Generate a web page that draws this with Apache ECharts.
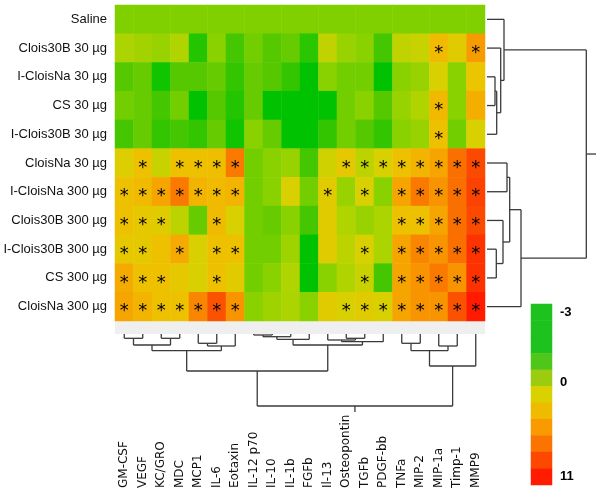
<!DOCTYPE html>
<html><head><meta charset="utf-8">
<script src="https://cdn.jsdelivr.net/npm/echarts@6/dist/echarts.min.js"></script>
<style>html,body{margin:0;padding:0;background:#fff}#c{width:600px;height:495px}</style>
</head><body><div id="c"></div>
<script>
// ---- categories ----
const rowLabels = ['Saline','Clois30B 30 µg','I-CloisNa 30 µg','CS 30 µg','I-Clois30B 30 µg','CloisNa 30 µg','I-CloisNa 300 µg','Clois30B 300 µg','I-Clois30B 300 µg','CS 300 µg','CloisNa 300 µg'];
const colLabels = ['GM-CSF','VEGF','KC/GRO','MDC','MCP1','IL-6','Eotaxin','IL-12 p70','IL-10','IL-1b','FGFb','Il-13','Osteopontin','TGFb','PDGF-bb','TNFa','MIP-2','MIP-1a','Timp-1','MMP9'];

// ---- values (one array per row, columns in colLabels order) ----
const saline        = [0,0,0,0,0,0,0,0,0,0,0,0,0,0,0,0,0,0,0,0];
const clois30B_30   = [0.9,0.7,0.5,1.0,-2.2,0.2,-1.4,-0.3,-1,-0.6,-2,1.4,0.5,0.2,-1.4,1.4,1.6,3.6,2.4,5.5];
const iCloisNa_30   = [-1,-0.6,-2.6,-1,-1,-0.6,-1.8,-0.6,-1,-1.8,-3,0.2,-0.3,-0.3,-3,0.2,0.5,2,0.2,2.9];
const cs_30         = [-0.3,-0.6,-1.4,-0.3,-3,-1,-2.2,-0.6,-3,-3,-3,-3,-0.3,0.2,-1,0.5,1,3.7,0.2,4.4];
const iClois30B_30  = [-1.4,-0.6,-1.8,-1.4,-1.8,-0.6,-2.6,0.2,-0.6,-3,-3,-1.8,-0.3,-1,-1.8,0.2,0.5,3.2,-0.3,2];
const cloisNa_30    = [2.2,3.2,1.6,3.2,3.2,3.4,7.5,-0.3,0.2,0.5,-1.4,1.8,2.7,1.3,2,3.2,4,5,8,9.5];
const iCloisNa_300  = [3.2,3.6,5,7.5,4,3.6,4,-0.3,0.2,2,-0.3,2.4,0.5,2,0.2,5,7.5,6,8,9.8];
const clois30B_300  = [3.2,2.7,2.4,1.3,-0.6,3.6,2,-0.3,-0.6,0.2,-1.4,2.4,1,0.5,0.9,3.2,3.2,5,8,9.5];
const iClois30B_300 = [2.7,2.7,3.2,4.6,2,3.2,3.2,-0.3,-0.3,0.65,-3,2.4,1.3,2,0.9,5,6.9,6,8,10.3];
const cs_300        = [4.6,3.2,3.2,2.7,2,3.2,2.5,-0.3,0.2,1,-3,0.2,1,1.6,-1.4,5,6,7.5,6,10.3];
const cloisNa_300   = [5,4,3.2,3.2,6.9,9.2,6,0.2,0.65,0.9,0.2,2.4,2,2.4,2,5,6,6,9.2,11];
const rowValues = [saline,clois30B_30,iCloisNa_30,cs_30,iClois30B_30,cloisNa_30,iCloisNa_300,clois30B_300,iClois30B_300,cs_300,cloisNa_300];

// ---- significance stars: column indices per row ----
const stars = [
  [], [17,19], [], [17], [17],
  [1,3,4,5,6,12,13,14,15,16,17,18,19],
  [0,1,2,3,4,5,6,11,13,15,16,17,18,19],
  [0,1,2,5,15,16,17,18,19],
  [0,1,3,5,6,13,15,16,17,18,19],
  [0,1,2,5,13,15,16,17,18,19],
  [0,1,2,3,4,5,6,12,13,14,15,16,17,18,19]
];

// ---- dendrograms: [height, left, right], leaves are indices ----
const rowTree = [99.3, [17, 0, [13.7, 1, [9.7, [8, 2, 3], 4]]], [34, [22.7, [20, 5, 6], [16, 7, [9.3, 8, 9]]], 10]];
const rowRootStub = 109;
const colTree = [72,
  [37, [16.7, [11, [4.3, 0, 1], [4.3, 2, 3]], [12, [9.3, 4, 5], 6]],
       [11, [5.3, [2.7, [1, 7, 8], 9], 10], [7.7, [6, 11, [4.3, 12, 13]], 14]]],
  [32, [16.7, [9.3, 15, 16], [12, 17, 18]], 19]];
const colRootStub = 78;

// ---- colour key ----
const keyLabels = ['-3','','','','0','','','','','','11'];
const keyColors = ['#1ec21e','#1ec21e','#1ec21e','#4fc61a','#9bcc10','#d9d200','#efbb00','#f99b00','#fb7300','#fd4800','#ff1c00'];

// ---- build ----
const heatData = [];
rowValues.forEach((row, r) => row.forEach((v, c) => heatData.push([c, r, v])));
const starSet = new Set();
stars.forEach((cs, r) => cs.forEach(c => starSet.add(r + '-' + c)));

function build(node, segs) {
  if (typeof node === 'number') return {pos: node, h: 0};
  const a = build(node[1], segs), b = build(node[2], segs);
  const h = node[0];
  segs.push([a.pos, a.h, a.pos, h]);
  segs.push([b.pos, b.h, b.pos, h]);
  segs.push([a.pos, h, b.pos, h]);
  return {pos: (a.pos + b.pos) / 2, h: h};
}
const rowSegs = []; const rr = build(rowTree, rowSegs); rowSegs.push([rr.pos, rr.h, rr.pos, rowRootStub]);
const colSegs = []; const cr = build(colTree, colSegs); colSegs.push([cr.pos, cr.h, cr.pos, colRootStub]);
const rowSegData = rowSegs.map(s => [s[1], s[0], s[3], s[2]]); // x = height, y = row position

const segRender = function (params, api) {
  const p1 = api.coord([api.value(0), api.value(1)]);
  const p2 = api.coord([api.value(2), api.value(3)]);
  return {type: 'line', shape: {x1: p1[0], y1: p1[1], x2: p2[0], y2: p2[1]},
          style: {stroke: '#3a3a3a', lineWidth: 1.3}};
};

const hidden = {show: false};
const chart = echarts.init(document.getElementById('c'), null, {renderer: 'canvas'});
chart.setOption({
  animation: false,
  backgroundColor: '#fff',
  graphic: [{type: 'rect', shape: {x: 115, y: 321, width: 370, height: 13}, style: {fill: '#efefef'}, z: -1}],
  grid: [
    {left: 115, top: 5, width: 370, height: 316},
    {left: 487, top: 5, width: 113, height: 316},
    {left: 115, top: 334, width: 370, height: 80},
    {left: 531, top: 304, width: 21, height: 181}
  ],
  xAxis: [
    {gridIndex: 0, type: 'category', data: colLabels, axisLine: hidden, axisTick: hidden, splitLine: hidden,
     axisLabel: {interval: 0, rotate: 90, align: 'left', verticalAlign: 'middle', margin: 167,
                 fontFamily: 'DejaVu Sans', fontSize: 12, color: '#111'}},
    {gridIndex: 1, type: 'value', min: 0, max: 113, show: false},
    {gridIndex: 2, type: 'value', min: -0.5, max: 19.5, show: false},
    {gridIndex: 3, type: 'category', data: ['key'], show: false}
  ],
  yAxis: [
    {gridIndex: 0, type: 'category', data: rowLabels, inverse: true, axisLine: hidden, axisTick: hidden, splitLine: hidden,
     axisLabel: {margin: 8, fontFamily: 'Liberation Sans', fontSize: 13, color: '#111'}},
    {gridIndex: 1, type: 'value', min: -0.5, max: 10.5, inverse: true, show: false},
    {gridIndex: 2, type: 'value', min: 0, max: 80, inverse: true, show: false},
    {gridIndex: 3, type: 'category', data: keyLabels, inverse: true, position: 'right', axisLine: hidden, axisTick: hidden,
     axisLabel: {interval: 0, margin: 8, fontFamily: 'Liberation Sans', fontSize: 13, fontWeight: 'bold', color: '#000',
                 formatter: v => v === '0' ? '{z|0}' : v,
                 rich: {z: {fontFamily: 'Liberation Sans', fontSize: 13, fontWeight: 'bold', color: '#000', padding: [9, 0, 0, 0]}}}}
  ],
  visualMap: [
    {type: 'continuous', show: false, seriesIndex: 0, dimension: 2, min: -3, max: 11,
     inRange: {color: ['#00c200','#2ac600','#55c800','#80d000','#b0d400','#d8d000','#ecc400','#f2b400','#f5a400','#f89400','#f98400','#fa7000','#fa5800','#fb3c00','#ff1a00']}},
    {type: 'piecewise', show: false, seriesIndex: 3, dimension: 2,
     pieces: keyColors.map((c, i) => ({value: i, color: c}))}
  ],
  series: [
    {type: 'heatmap', xAxisIndex: 0, yAxisIndex: 0, data: heatData,
     label: {show: true, formatter: p => starSet.has(p.value[1] + '-' + p.value[0]) ? '*' : '',
             color: '#000', fontFamily: 'DejaVu Sans', fontSize: 18, offset: [0, 5]},
     emphasis: {disabled: true}},
    {type: 'custom', xAxisIndex: 1, yAxisIndex: 1, data: rowSegData, renderItem: segRender, silent: true},
    {type: 'custom', xAxisIndex: 2, yAxisIndex: 2, data: colSegs, renderItem: segRender, silent: true},
    {type: 'heatmap', xAxisIndex: 3, yAxisIndex: 3, data: keyLabels.map((l, i) => [0, i, i]), emphasis: {disabled: true}}
  ]
});
</script></body></html>
